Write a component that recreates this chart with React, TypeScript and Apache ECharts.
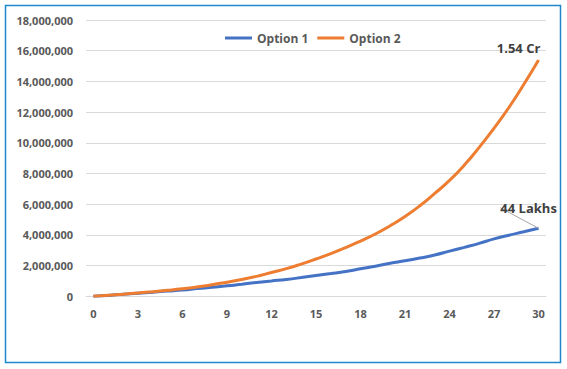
import React, { useEffect, useRef } from "react";
import * as echarts from "echarts";

const years: string[] = Array.from({ length: 31 }, (_, i) => String(i));
const option1: number[] = [
  0, 60000, 130000, 200000, 270000, 340000, 410000, 500000, 590000, 680000,
  790000, 900000, 1000000, 1100000, 1220000, 1350000, 1480000, 1620000, 1790000, 1960000,
  2150000, 2310000, 2490000, 2690000, 2940000, 3190000, 3450000, 3740000, 3980000, 4200000,
  4430000,
];
const option2: number[] = [
  0, 70000, 140000, 220000, 300000, 390000, 490000, 610000, 750000, 920000,
  1100000, 1300000, 1550000, 1800000, 2100000, 2430000, 2780000, 3170000, 3600000, 4060000,
  4600000, 5200000, 5900000, 6700000, 7550000, 8550000, 9700000, 10950000, 12300000, 13800000,
  15400000,
];
const seriesNames = ["Option 1", "Option 2"];
const endLabels = ["44 Lakhs", "1.54 Cr"];

const FONT = "'Open Sans', 'Noto Sans', sans-serif";
const GRAY = "#595959";

export default function App() {
  const ref = useRef<HTMLDivElement>(null);
  useEffect(() => {
    if (!ref.current) return;
    const chart = echarts.init(ref.current, null, { renderer: "svg" });
    const lastIdx = years.length - 1;
    const withEndLabel = (arr: number[], text: string) =>
      arr.map((v, i) =>
        i === lastIdx
          ? {
              value: v,
              label: {
                show: true,
                formatter: text,
                position: "top",
                fontFamily: FONT,
                fontWeight: "bold",
                fontSize: 13,
                color: "#404040",
              },
            }
          : v
      );
    chart.setOption({
      animation: false,
      textStyle: { fontFamily: FONT },
      graphic: [
        {
          type: "rect",
          shape: { x: 5.5, y: 5.5, width: 555, height: 357 },
          style: { fill: "none", stroke: "#1E88CC", lineWidth: 1.5 },
          silent: true,
        },
      ],
      legend: {
        left: 220,
        top: 27,
        itemWidth: 27,
        itemHeight: 3,
        itemGap: 9,
        icon: "rect",
        textStyle: { fontFamily: FONT, fontWeight: "bold", fontSize: 12, color: GRAY },
        data: seriesNames,
      },
      grid: { left: 86, right: 21, top: 20, bottom: 72.7, containLabel: false },
      xAxis: {
        type: "category",
        data: years,
        boundaryGap: true,
        axisTick: { show: false },
        axisLine: { show: true, lineStyle: { color: "#d9d9d9" } },
        axisLabel: {
          interval: 2,
          margin: 12,
          fontFamily: FONT,
          fontWeight: "bold",
          fontSize: 11,
          color: GRAY,
        },
      },
      yAxis: {
        type: "value",
        min: 0,
        max: 18000000,
        interval: 2000000,
        axisLine: { show: false },
        axisTick: { show: false },
        splitLine: { lineStyle: { color: "#d9d9d9" } },
        axisLabel: {
          margin: 13,
          fontFamily: FONT,
          fontWeight: "bold",
          fontSize: 11,
          color: GRAY,
          formatter: (v: number) => v.toLocaleString("en-US"),
        },
      },
      series: [
        {
          name: seriesNames[0],
          type: "line",
          smooth: true,
          symbol: "circle",
          symbolSize: 0,
          showSymbol: true,
          showAllSymbol: true,
          lineStyle: { width: 3, color: "#4472C4" },
          itemStyle: { color: "#4472C4" },
          labelLayout: { dx: -10, dy: -9 },
          labelLine: { show: true, lineStyle: { color: "#a6a6a6", width: 1 } },
          data: withEndLabel(option1, endLabels[0]),
          z: 3,
        },
        {
          name: seriesNames[1],
          type: "line",
          smooth: true,
          symbol: "circle",
          symbolSize: 0,
          showSymbol: true,
          showAllSymbol: true,
          lineStyle: { width: 3, color: "#ED7D31" },
          itemStyle: { color: "#ED7D31" },
          labelLayout: { dx: -20, dy: 0 },
          data: withEndLabel(option2, endLabels[1]),
          z: 4,
        },
      ],
    });
    return () => chart.dispose();
  }, []);
  return (
    <div
      ref={ref}
      style={{ position: "absolute", left: 0, top: 0, width: 567, height: 369, background: "#fff" }}
    />
  );
}
